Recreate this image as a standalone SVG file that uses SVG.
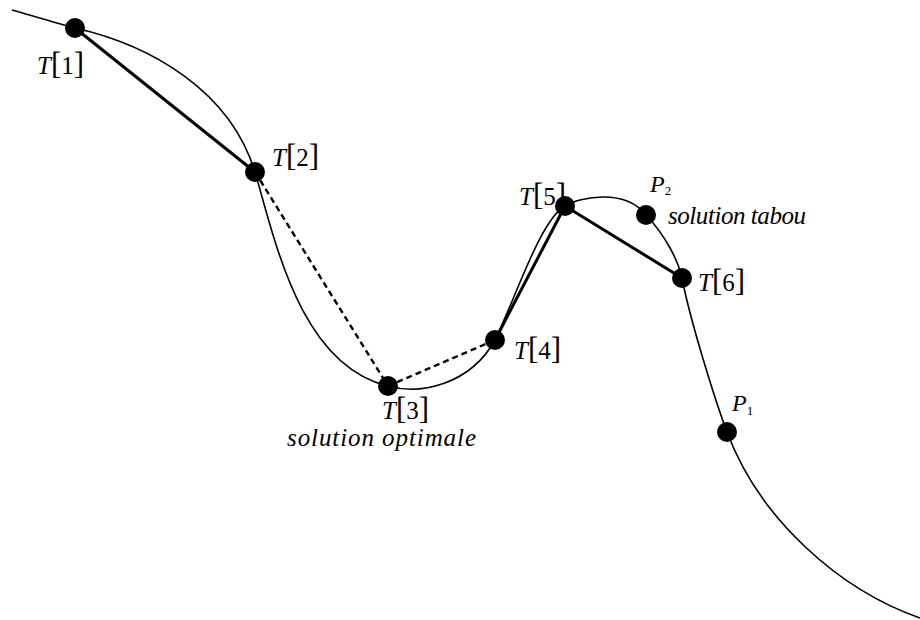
<svg xmlns="http://www.w3.org/2000/svg" width="920" height="620" viewBox="0 0 920 620">
<style>
.curve{fill:none;stroke:#000;stroke-width:1.6}
.chord{stroke:#000;stroke-width:3;fill:none}
.dash{stroke:#000;stroke-width:2.4;stroke-dasharray:6 4;fill:none}
.dot{fill:#000}
.lbl{font-family:"Liberation Serif",serif;font-size:25px;fill:#000}
.it{font-style:italic}
.br{font-size:31px}
.cap{font-family:"Liberation Serif",serif;font-style:italic;font-size:25px;fill:#000}
.pl{font-family:"Liberation Serif",serif;font-style:italic;font-size:24px;fill:#000}
.sub{font-size:13px;font-style:normal}
</style>
<rect width="920" height="620" fill="#fff"/>
<g id="connectors">
<path class="curve" d="M12,10 C40,18 60,24 75,28 C150,45 230,90 255,172 C275,240 300,365 388,386 C420,395 470,385 495,340 C515,300 540,220 565,206 C580,197 625,188 646,215 C665,235 678,260 682,278 C690,320 715,400 727,432 C760,520 840,590 920,618"/>
<line class="chord" x1="75" y1="28" x2="255" y2="172"/>
<line class="dash" x1="255" y1="172" x2="388" y2="386"/>
<line class="dash" x1="388" y1="386" x2="495" y2="340"/>
<line class="chord" x1="495" y1="340" x2="565" y2="206"/>
<line class="chord" x1="565" y1="206" x2="682" y2="278"/>
</g>
<g id="T1"><circle class="dot" cx="75" cy="28" r="10"/><text class="lbl" x="37" y="74"><tspan class="it">T</tspan><tspan class="br">[</tspan>1<tspan class="br">]</tspan></text></g>
<g id="T2"><circle class="dot" cx="255" cy="172" r="10"/><text class="lbl" x="272" y="166"><tspan class="it">T</tspan><tspan class="br">[</tspan>2<tspan class="br">]</tspan></text></g>
<g id="T3"><circle class="dot" cx="388" cy="386" r="10"/><text class="lbl" x="382" y="419"><tspan class="it">T</tspan><tspan class="br">[</tspan>3<tspan class="br">]</tspan></text><text class="cap" x="287" y="446" textLength="189" lengthAdjust="spacing">solution optimale</text></g>
<g id="T4"><circle class="dot" cx="495" cy="340" r="10"/><text class="lbl" x="514" y="359"><tspan class="it">T</tspan><tspan class="br">[</tspan>4<tspan class="br">]</tspan></text></g>
<g id="T5"><circle class="dot" cx="565" cy="206" r="10"/><text class="lbl" x="519" y="205"><tspan class="it">T</tspan><tspan class="br">[</tspan>5<tspan class="br">]</tspan></text></g>
<g id="P2"><circle class="dot" cx="646" cy="215" r="10"/><text class="pl" x="650" y="192">P<tspan class="sub" dy="3">2</tspan></text><text class="cap" x="668" y="224" textLength="138" lengthAdjust="spacing">solution tabou</text></g>
<g id="T6"><circle class="dot" cx="682" cy="278" r="10"/><text class="lbl" x="698" y="291"><tspan class="it">T</tspan><tspan class="br">[</tspan>6<tspan class="br">]</tspan></text></g>
<g id="P1"><circle class="dot" cx="727" cy="432" r="10"/><text class="pl" x="732" y="411">P<tspan class="sub" dy="4">1</tspan></text></g>
</svg>
